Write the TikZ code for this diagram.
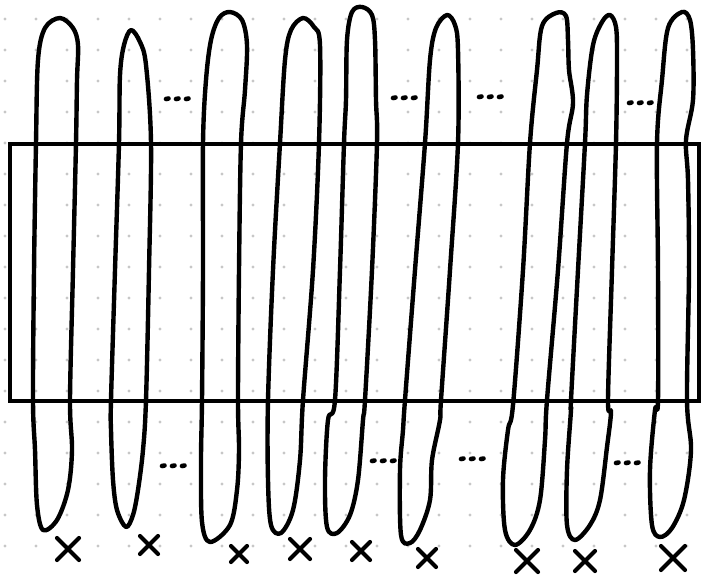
\documentclass[tikz,border=0pt]{standalone}
\begin{document}
\begin{tikzpicture}[x=1pt,y=-1pt,
  loopline/.style={line width=4.4pt, line join=round, line cap=round},
  frameline/.style={line width=3.4pt},
  cross/.style={line width=4.2pt, line cap=round},
  ell/.style={line width=4.6pt, line cap=round},
  griddot/.style={fill=black!22}]
% canvas
\fill[white] (0,0) rectangle (702,574);
\useasboundingbox (0,0) rectangle (702,574);
% dotted paper
\foreach \i in {0,...,22}{
  \foreach \j in {0,...,17}{
    \fill[griddot] ({5+31*\i},{19+31*\j}) circle (1.6pt);
  }
}
% the long loops
\draw[loopline] plot[smooth cycle, tension=0.55] coordinates {
  (60,18) (73,28) (78,45) (77,80) (76,143) (73,270) (70,400) (72,450) (68,490) (57,520) (43,530)
  (37,505) (35,450) (33,400) (34,270) (36,143) (38,60) (45,28)};
\draw[loopline] plot[smooth cycle, tension=0.55] coordinates {
  (131,30) (140,42) (146,65) (151,143) (149,270) (146,400) (143,450) (138,490) (133,515) (126,527)
  (117,510) (113,480) (111,430) (111,400) (115,270) (119,143) (120,75) (124,45)};
\draw[loopline] plot[smooth cycle, tension=0.55] coordinates {
  (230,12) (242,20) (247,45) (245,90) (241,143) (239,270) (238,400) (239,450) (237,490) (230,525) (210,542)
  (202,522) (201,460) (202,400) (203,270) (203,143) (206,80) (211,40) (219,18)};
\draw[loopline] plot[smooth cycle, tension=0.55] coordinates {
  (303,18) (314,27) (320,45) (319,143) (313,270) (303,400) (300,460) (293,510) (281,533)
  (271,525) (268,480) (268,400) (273,270) (280,143) (285,60) (291,30)};
\draw[loopline] plot[smooth cycle, tension=0.55] coordinates {
  (362,7) (372,15) (375,40) (376,100) (377,143) (372,270) (365,400) (363,420) (358,480) (350,515) (337,533)
  (327,527) (325,480) (328,420) (335,400) (340,270) (344,143) (346,100) (347,40) (352,12)};
\draw[loopline] plot[smooth cycle, tension=0.55] coordinates {
  (447,15) (455,25) (458,50) (458,143) (450,270) (441,400) (440,420) (432,460) (430,500) (420,530) (410,543)
  (401,535) (400,470) (403,430) (405,400) (415,270) (425,143) (430,60) (436,28)};
\draw[loopline] plot[smooth cycle, tension=0.55] coordinates {
  (556,13) (566,16) (568,40) (569,70) (573,103) (567,143) (558,270) (547,400) (545,440) (540,500) (530,530) (515,545)
  (505,530) (503,480) (508,430) (513,405) (523,270) (530,143) (537,70) (542,26)};
\draw[loopline] plot[smooth cycle, tension=0.55] coordinates {
  (610,15) (616,27) (617,60) (616,143) (612,270) (608,400) (611,412) (607,447) (600,500) (590,525) (575,540)
  (567,525) (567,470) (571,410) (571,400) (578,270) (585,143) (587,95) (593,45) (602,22)};
\draw[loopline] plot[smooth cycle, tension=0.55] coordinates {
  (682,12) (690,20) (693,50) (693,100) (686,140) (688,180) (689,270) (687,400) (691,450) (684,500) (672,528) (660,537)
  (652,525) (650,470) (655,410) (658,400) (658,270) (657,143) (662,80) (668,28)};
% the frame across the loops
\draw[frameline] (10,144) rectangle (699,401);
% crosses under the loops
\foreach \cx/\cy/\s in {68/549/11, 149/545/9, 239/554/8, 300/549/10, 361/551/9,
                        427/558/9, 527/561/11, 585/561/10, 673/558/12}{
  \draw[cross] ({\cx-\s},{\cy-\s}) -- ({\cx+\s},{\cy+\s});
  \draw[cross] ({\cx+\s},{\cy-\s}) -- ({\cx-\s},{\cy+\s});
}
% ellipses between the loops
\foreach \ex/\ey in {166/99, 393/98, 479/97, 629/103, 162/466, 372/461, 461/459, 616/463}{
  \foreach \k in {0,1,2}{
    \draw[ell] ({\ex+10*\k},\ey) -- ({\ex+10*\k+2.5},{\ey-0.5});
  }
}
\end{tikzpicture}
\end{document}
